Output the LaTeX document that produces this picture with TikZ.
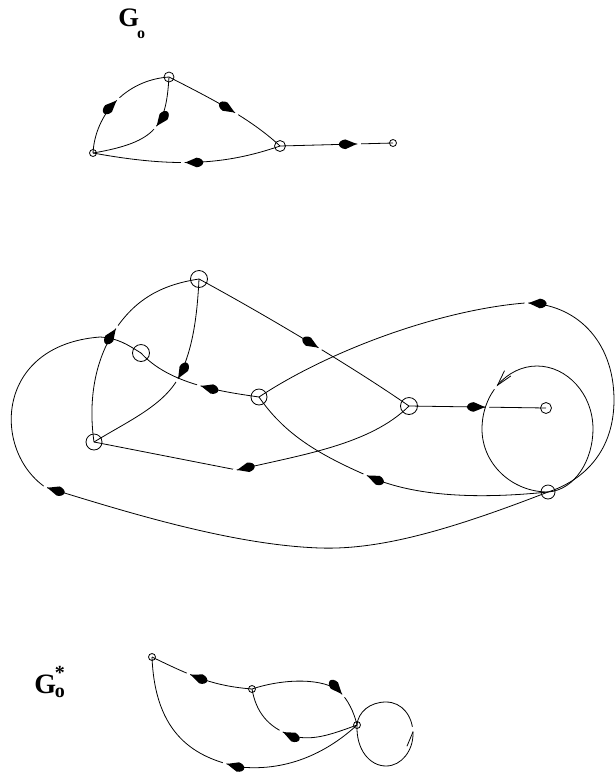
\documentclass[tikz,border=0pt]{standalone}
\usepackage{fontspec}
\setmainfont{Liberation Serif}
\usetikzlibrary{decorations.markings}
\begin{document}
\begin{tikzpicture}[x=0.75pt,y=-0.75pt,line width=0.6pt,
  nd/.style={circle,draw,inner sep=0pt,minimum size=#1},
  nd/.default=6pt,
  arr/.style={postaction={decorate,decoration={markings,mark=at position #1 with {\fill[white] (0.4pt,-1.4pt) rectangle (3pt,1.4pt); \fill[black] (0,0) -- (-8.5pt,3.6pt) .. controls (-11.5pt,3.4pt) and (-13.5pt,1.6pt) .. (-13.5pt,0) .. controls (-13.5pt,-1.6pt) and (-11.5pt,-3.4pt) .. (-8.5pt,-3.6pt) -- cycle;}}}},
  varr/.style={postaction={decorate,decoration={markings,mark=at position #1 with {\fill[white] (0.4pt,-1.4pt) rectangle (3.8pt,1.4pt); \draw[line width=0.6pt] (-11.6pt,3.1pt) -- (0,0) -- (-11.6pt,-3.1pt);}}}},
  harr/.style={postaction={decorate,decoration={markings,mark=at position #1 with {\fill[white] (0.4pt,-1.4pt) rectangle (3.8pt,1.4pt); \draw[line width=0.6pt] (0,0) -- (-10.5pt,5pt);}}}},
  lbl/.style={inner sep=0pt,font=\bfseries\fontsize{20}{20}\selectfont}]
\useasboundingbox (0,0) rectangle (616,776);

% ---------- labels
\node[lbl,anchor=base west] (g1) at (118,26) {G\kern-1.5pt\raisebox{-9.5pt}{\fontsize{12}{12}\selectfont o}};
\node[lbl,anchor=base west,font=\bfseries\fontsize{21}{21}\selectfont] (g2) at (34,693) {G\kern-1pt\rlap{\raisebox{10.5pt}{\fontsize{15}{15}\selectfont *}}\raisebox{-3pt}{\fontsize{15}{15}\selectfont o}};

% ---------- top graph G_o
\node[nd=7.5pt] (A) at (169,77) {};
\node[nd=5.25pt] (B) at (93,153) {};
\node[nd=8.25pt] (C) at (280,146) {};
\node[nd=5.25pt] (D) at (393,143) {};
\draw[arr=0.5] (B.center) .. controls (95,115) and (125,80) .. (A.center);
\draw[arr=0.42] (A.center) .. controls (166,125) and (158,142) .. (B.center);
\draw[arr=0.57] (A.center) .. controls (210,98) and (250,118) .. (C.center);
\draw[arr=0.51] (C.center) .. controls (225,165) and (175,168) .. (B.center);
\draw[arr=0.68] (C.center) -- (D.center);

% ---------- middle graph
\node[nd=12.75pt] (T) at (199,279) {};
\node[nd=12.75pt] (P) at (141,353) {};
\node[nd=12pt] (M) at (259,397) {};
\node[nd=12pt] (L) at (94,442) {};
\node[nd=12.75pt] (R1) at (409,406) {};
\node[nd=8.25pt] (R2) at (546,408) {};
\node[nd=10.5pt] (Bo) at (548,492) {};
\draw[arr=0.54] (L.center) .. controls (88,400) and (95,360) .. (115,330) .. controls (135,300) and (160,285) .. (T.center);
\draw[arr=0.49] (T.center) .. controls (197,320) and (192,350) .. (180,375) .. controls (165,405) and (130,420) .. (L.center);
\draw[arr=0.56] (T.center) .. controls (260,312) and (350,365) .. (R1.center);
\draw[arr=0.46] (M.center) .. controls (225,392) and (170,385) .. (P.center);
\draw[arr=0.56] (R1.center) .. controls (370,445) and (300,455) .. (237,470) -- (L.center);
\draw[arr=0.555] (R1.center) -- (R2.center);
\draw[arr=0.48] (Bo.center) .. controls (585,480) and (614,450) .. (614,400) .. controls (614,340) and (575,303) .. (525,303) .. controls (440,310) and (330,350) .. (M.center);
\draw[arr=0.575] (Bo.center) .. controls (470,500) and (410,495) .. (368,476) .. controls (320,455) and (285,435) .. (M.center);
\draw[arr=0.665] (Bo.center) .. controls (450,530) and (380,550) .. (320,548) .. controls (230,545) and (120,510) .. (45,487) .. controls (-8,450) and (-5,345) .. (100,337) .. controls (118,338) and (128,345) .. (P.center);
\draw[varr=0.6] (Bo.center) .. controls (575,490) and (593,460) .. (593,429) .. controls (593,394) and (567,366) .. (537,366) .. controls (507,366) and (482,394) .. (482,429) .. controls (482,464) and (512,492) .. (Bo.center);

% ---------- bottom graph G_o^*
\node[nd=5.25pt] (N1) at (152,657) {};
\node[nd=5.25pt] (N2) at (252,689) {};
\node[nd=5.25pt] (N3) at (357,725) {};
\draw[arr=0.6] (N2.center) .. controls (215,686) and (195,678) .. (N1.center);
\draw[arr=0.73] (N2.center) .. controls (285,678) and (325,678) .. (340,692) .. controls (348,700) and (354,712) .. (N3.center);
\draw[arr=0.58] (N3.center) .. controls (330,735) and (310,742) .. (290,735) .. controls (268,727) and (256,712) .. (N2.center);
\draw[arr=0.5] (N3.center) .. controls (330,750) and (290,772) .. (240,767) .. controls (195,758) and (155,735) .. (N1.center);
\draw[harr=0.55] (N3.center) .. controls (356,750) and (370,766) .. (386,766) .. controls (402,766) and (413,750) .. (413,734) .. controls (413,716) and (402,702) .. (386,702) .. controls (370,702) and (358,712) .. (N3.center);
\end{tikzpicture}
\end{document}
